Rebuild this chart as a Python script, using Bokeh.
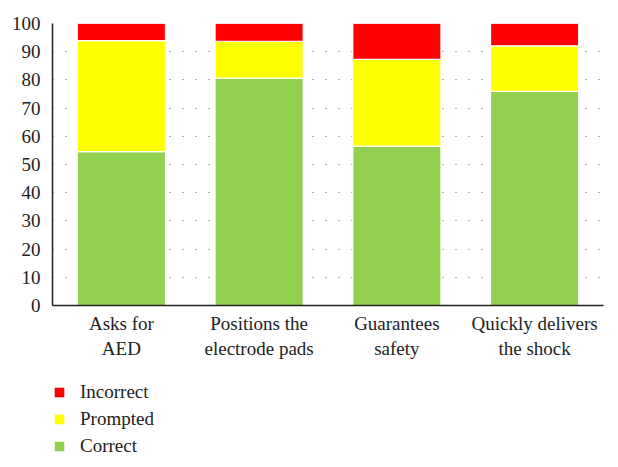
from bokeh.plotting import figure
from bokeh.models import Legend, LegendItem, FixedTicker, ColumnDataSource
from bokeh.layouts import column
from bokeh.embed import file_html
from bokeh.resources import INLINE

categories = ["Asks for AED", "Positions the electrode pads", "Guarantees safety", "Quickly delivers the shock"]
tick_labels = ["Asks for\nAED", "Positions the\nelectrode pads", "Guarantees\nsafety", "Quickly delivers\nthe shock"]
correct = [54.6, 80.6, 56.5, 75.9]
prompted = [39.3, 13.1, 30.8, 16.2]
incorrect = [6.1, 6.3, 12.7, 7.9]
series = ["Correct", "Prompted", "Incorrect"]
colors = ["#92D050", "#FFFF00", "#FF0000"]
y_ticks = list(range(0, 101, 10))

FONT = "Liberation Serif"
FS = "19px"
TXT = "#222222"

xpos = list(range(len(categories)))
source = ColumnDataSource(dict(x=xpos, cat=categories, Correct=correct,
                               Prompted=prompted, Incorrect=incorrect))

p = figure(x_range=(-0.5, len(categories) - 0.5), y_range=(0, 100), width=612, height=375,
           output_backend="svg", toolbar_location=None,
           min_border_left=52, min_border_right=9, min_border_top=23, min_border_bottom=70)
p.outline_line_color = None

rs = p.vbar_stack(series, x="x", width=0.64, source=source, color=colors,
                  line_color="white", line_width=1.2)

p.xgrid.grid_line_color = None
p.ygrid.grid_line_color = "#666666"
p.ygrid.grid_line_dash = "1 12"
p.ygrid.grid_line_width = 1

p.yaxis.ticker = FixedTicker(ticks=y_ticks)
p.yaxis.major_tick_line_color = None
p.yaxis.minor_tick_line_color = None
p.yaxis.axis_line_color = TXT
p.yaxis.axis_line_width = 1.5
p.yaxis.major_label_text_font = FONT
p.yaxis.major_label_text_font_size = FS
p.yaxis.major_label_text_color = TXT
p.yaxis.major_label_standoff = 6

p.xaxis.ticker = FixedTicker(ticks=xpos)
p.xaxis.major_tick_line_color = None
p.xaxis.minor_tick_line_color = None
p.xaxis.axis_line_color = TXT
p.xaxis.axis_line_width = 1.5
p.xaxis.major_label_text_font = FONT
p.xaxis.major_label_text_font_size = FS
p.xaxis.major_label_text_color = TXT
p.xaxis.major_label_text_line_height = 1.2
p.xaxis.major_label_standoff = 1
p.xaxis.major_label_overrides = {i: t for i, t in zip(xpos, tick_labels)}

# legend panel (separate small plot below the chart)
q = figure(width=612, height=85, output_backend="svg", toolbar_location=None,
           x_axis_type=None, y_axis_type=None, x_range=(0, 1), y_range=(0, 1),
           min_border_left=0, min_border_right=0, min_border_top=0, min_border_bottom=0)
q.outline_line_color = None
q.grid.grid_line_color = None
dummy = ColumnDataSource(dict(x=[5.0], top=[0.0]))
lrs = [q.vbar(x="x", top="top", width=0.5, source=dummy, fill_color=c, line_color=None)
       for c in colors]
items = [LegendItem(label=s, renderers=[r]) for s, r in zip(series, lrs)][::-1]
legend = Legend(items=items, location=(1, 3), orientation="vertical",
                padding=0, margin=0, spacing=5,
                glyph_width=12, glyph_height=12, label_height=22, label_standoff=15,
                label_text_font=FONT, label_text_font_size=FS, label_text_color=TXT,
                border_line_color=None, background_fill_alpha=0)
q.add_layout(legend, "center")

layout = column(p, q, spacing=0)
open("out.html", "w").write(file_html(layout, INLINE))
